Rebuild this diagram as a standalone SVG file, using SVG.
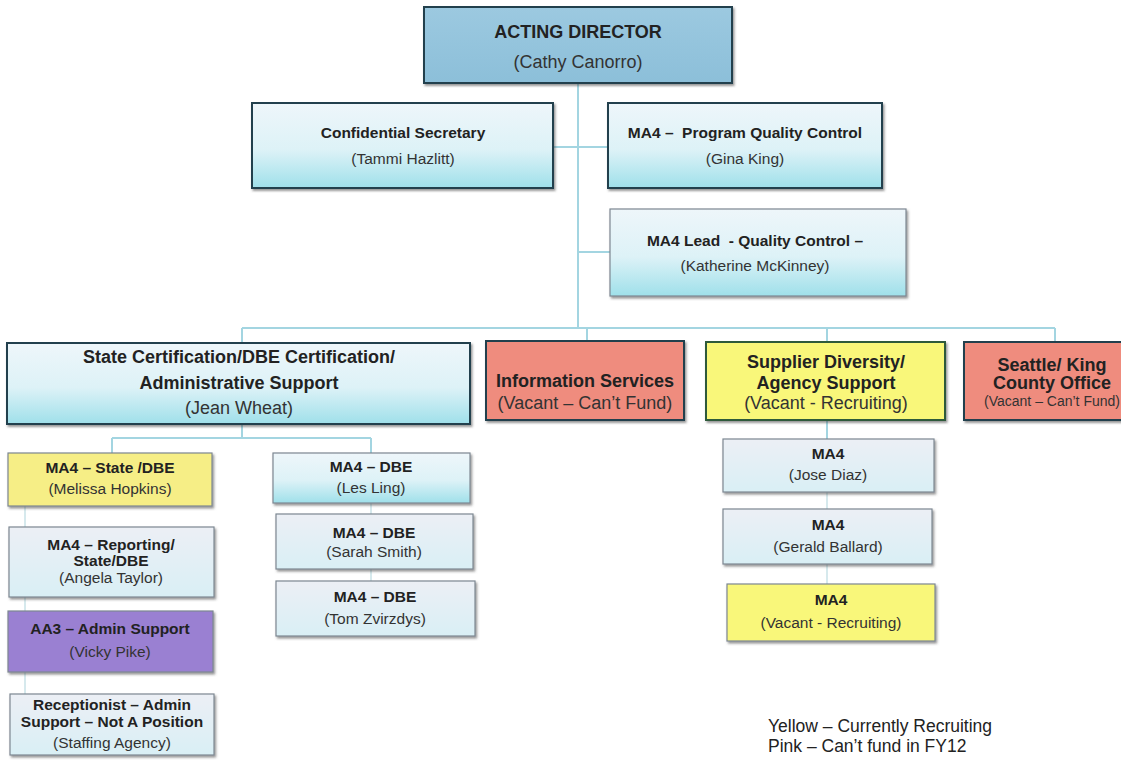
<svg xmlns="http://www.w3.org/2000/svg" width="1121" height="761" viewBox="0 0 1121 761">
<defs>
<linearGradient id="gBlue" x1="0" y1="0" x2="0" y2="1">
<stop offset="0" stop-color="#eef6fa"/><stop offset="0.55" stop-color="#ddf2f7"/><stop offset="1" stop-color="#9fe0ea"/>
</linearGradient>
<linearGradient id="gPale" x1="0" y1="0" x2="0" y2="1">
<stop offset="0" stop-color="#eceff5"/><stop offset="1" stop-color="#d9eff5"/>
</linearGradient>
<linearGradient id="gDir" x1="0" y1="0" x2="0" y2="1">
<stop offset="0" stop-color="#9cc9e0"/><stop offset="1" stop-color="#8cbfd9"/>
</linearGradient>
<filter id="sh" x="-5%" y="-5%" width="115%" height="125%">
<feDropShadow dx="1.5" dy="2" stdDeviation="1" flood-color="#444" flood-opacity="0.55"/>
</filter>
<style>
.b1{stroke:#24404e;stroke-width:2;filter:url(#sh)}
.b2{stroke:#7d8792;stroke-width:1.2;filter:url(#sh)}
.blue{fill:url(#gBlue)}
.pale{fill:url(#gPale)}
.dir{fill:url(#gDir)}
.yel{fill:#f6ee86}
.yel2{fill:#f9f77a}
.pink{fill:#ef8c7e}
.pur{fill:#9a80d2}
.conn{fill:none;stroke:#a3d5e1;stroke-width:2}
.faint{fill:none;stroke:#c9e2e8;stroke-width:1.5}
text{font-family:"Liberation Sans",Arial,sans-serif;text-anchor:middle;fill:#222}
.h18{font-size:18px;font-weight:bold}
.r18{font-size:18px;fill:#333}
.h15{font-size:15.5px;font-weight:bold}
.r15{font-size:15.5px;fill:#333}
.r14{font-size:14px;fill:#333}
.leg{font-size:17.5px;text-anchor:start;fill:#222}
</style>
</defs>
<rect width="1121" height="761" fill="#ffffff"/>

<g id="connectors">
<path class="conn" d="M578 83V328M553 147H608M578 252H610M242 328H1055M242 328V343M587 328V341M827 328V342M1055 328V342"/>
<path class="conn" d="M242 424V438M112 438H371M112 438V453M371 438V453M827 420V439"/>
<path class="faint" d="M25 506V694M371 503V581M827 492V584"/>
</g>

<g id="director">
<rect class="b1 dir" x="424" y="7" width="308" height="76"/>
<text class="h18" x="578" y="38">ACTING DIRECTOR</text>
<text class="r18" x="578" y="68">(Cathy Canorro)</text>
</g>

<g id="conf-secretary">
<rect class="b1 blue" x="252" y="103" width="301" height="85"/>
<text class="h15" x="403" y="138">Confidential Secretary</text>
<text class="r15" x="403" y="164">(Tammi Hazlitt)</text>
</g>

<g id="program-qc">
<rect class="b1 blue" x="608" y="103" width="274" height="85"/>
<text class="h15" x="745" y="138">MA4 –&#160; Program Quality Control</text>
<text class="r15" x="745" y="164">(Gina King)</text>
</g>

<g id="lead-qc">
<rect class="b2 blue" x="610" y="209" width="296" height="87"/>
<text class="h15" x="755" y="246">MA4 Lead&#160; - Quality Control –</text>
<text class="r15" x="755" y="271">(Katherine McKinney)</text>
</g>

<g id="state-cert">
<rect class="b1 blue" x="7" y="343" width="463" height="81"/>
<text class="h18" x="239" y="363">State Certification/DBE Certification/</text>
<text class="h18" x="239" y="389">Administrative Support</text>
<text class="r18" x="239" y="414">(Jean Wheat)</text>
</g>

<g id="info-services">
<rect class="b1 pink" x="486" y="341" width="198" height="79"/>
<text class="h18" x="585" y="387">Information Services</text>
<text class="r18" x="585" y="409">(Vacant – Can’t Fund)</text>
</g>

<g id="supplier-diversity">
<rect class="b1 yel2" x="706" y="342" width="239" height="78" style="stroke:#2f5a3a"/>
<text class="h18" x="826" y="368">Supplier Diversity/</text>
<text class="h18" x="826" y="389">Agency Support</text>
<text class="r18" x="826" y="409">(Vacant - Recruiting)</text>
</g>

<g id="seattle-king">
<rect class="b1 pink" x="964" y="342" width="170" height="78"/>
<text class="h18" x="1052" y="371">Seattle/ King</text>
<text class="h18" x="1052" y="389">County Office</text>
<text class="r14" x="1052" y="406">(Vacant – Can’t Fund)</text>
</g>

<g id="ma4-state-dbe">
<rect class="b2 yel" x="8" y="453" width="204" height="53"/>
<text class="h15" x="110" y="473">MA4 – State /DBE</text>
<text class="r15" x="110" y="494">(Melissa Hopkins)</text>
</g>

<g id="ma4-reporting">
<rect class="b2 pale" x="9" y="527" width="205" height="70"/>
<text class="h15" x="111" y="550">MA4 – Reporting/</text>
<text class="h15" x="111" y="566">State/DBE</text>
<text class="r15" x="111" y="583">(Angela Taylor)</text>
</g>

<g id="aa3-admin">
<rect class="b2 pur" x="8" y="611" width="205" height="61"/>
<text class="h15" x="110" y="634">AA3 – Admin Support</text>
<text class="r15" x="110" y="657">(Vicky Pike)</text>
</g>

<g id="receptionist">
<rect class="b2 pale" x="10" y="694" width="204" height="61"/>
<text class="h15" x="112" y="710">Receptionist – Admin</text>
<text class="h15" x="112" y="727">Support – Not A Position</text>
<text class="r15" x="112" y="748">(Staffing Agency)</text>
</g>

<g id="ma4-les-ling">
<rect class="b2 blue" x="273" y="453" width="197" height="50"/>
<text class="h15" x="371" y="472">MA4 – DBE</text>
<text class="r15" x="371" y="493">(Les Ling)</text>
</g>

<g id="ma4-sarah-smith">
<rect class="b2 pale" x="276" y="514" width="197" height="55"/>
<text class="h15" x="374" y="538">MA4 – DBE</text>
<text class="r15" x="374" y="557">(Sarah Smith)</text>
</g>

<g id="ma4-tom-zvirzdys">
<rect class="b2 pale" x="276" y="581" width="199" height="55"/>
<text class="h15" x="375" y="602">MA4 – DBE</text>
<text class="r15" x="375" y="624">(Tom Zvirzdys)</text>
</g>

<g id="ma4-jose-diaz">
<rect class="b2 pale" x="723" y="439" width="211" height="53"/>
<text class="h15" x="828" y="459">MA4</text>
<text class="r15" x="828" y="480">(Jose Diaz)</text>
</g>

<g id="ma4-gerald-ballard">
<rect class="b2 pale" x="723" y="509" width="209" height="55"/>
<text class="h15" x="828" y="530">MA4</text>
<text class="r15" x="828" y="552">(Gerald Ballard)</text>
</g>

<g id="ma4-vacant">
<rect class="b2 yel2" x="727" y="584" width="208" height="57"/>
<text class="h15" x="831" y="605">MA4</text>
<text class="r15" x="831" y="628">(Vacant - Recruiting)</text>
</g>

<g id="legend">
<text class="leg" x="768" y="732">Yellow – Currently Recruiting</text>
<text class="leg" x="768" y="752">Pink – Can’t fund in FY12</text>
</g>
</svg>
